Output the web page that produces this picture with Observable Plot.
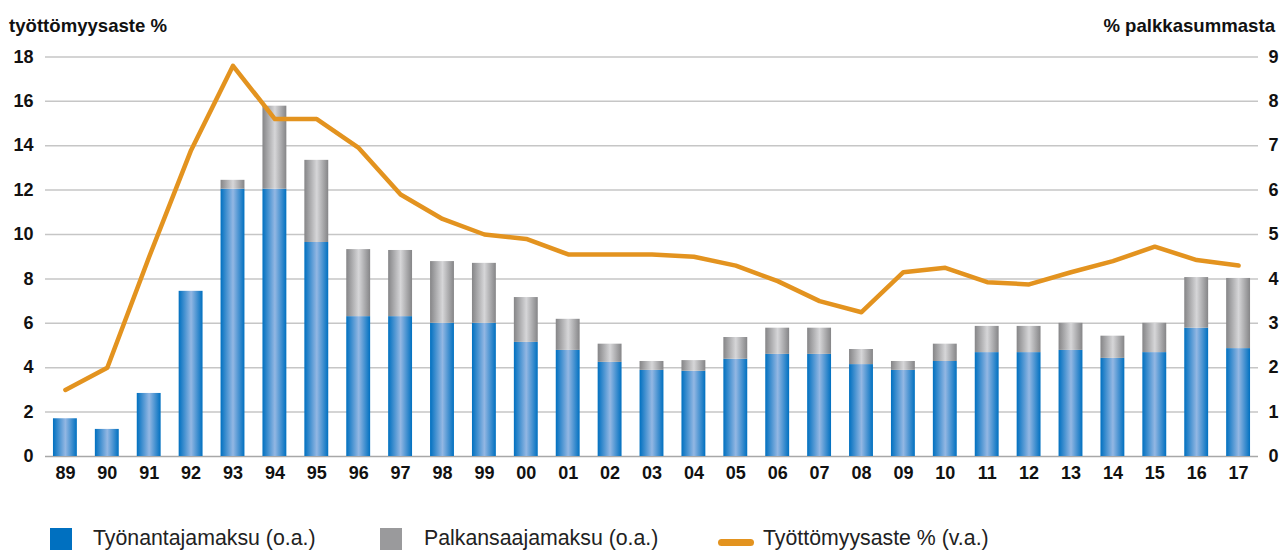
<!DOCTYPE html>
<html><head><meta charset="utf-8">
<script src="https://cdn.jsdelivr.net/npm/d3@7"></script>
<script src="https://cdn.jsdelivr.net/npm/@observablehq/plot@0.6"></script>
<style>
body{margin:0;background:#fff;font-family:"Liberation Sans",Arial,sans-serif;}
#wrap{position:relative;width:1284px;height:550px;overflow:hidden;background:#fff;}
#chart{position:absolute;left:0;top:0;}
.ttl{position:absolute;font-weight:bold;font-size:18.6px;line-height:18px;color:#111;top:17px;white-space:nowrap;}
.sw{position:absolute;top:528px;width:22px;height:26px;}
.lt{position:absolute;top:528px;font-size:21.3px;line-height:21px;color:#222;white-space:nowrap;}
</style>
</head><body>
<div id="wrap">
  <div id="chart"></div>
  <div class="ttl" style="left:9px">työttömyysaste %</div>
  <div class="ttl" style="right:9px">% palkkasummasta</div>
  <div class="sw" style="left:50px;background:#0070c0"></div>
  <div class="lt" style="left:93px">Työnantajamaksu (o.a.)</div>
  <div class="sw" style="left:380px;background:#9a9a9c"></div>
  <div class="lt" style="left:424px">Palkansaajamaksu (o.a.)</div>
  <div class="sw" style="left:718px;top:539px;width:36px;height:7px;border-radius:4px;background:#e3931f"></div>
  <div class="lt" style="left:763px">Työttömyysaste % (v.a.)</div>
</div>
<script>
const years = ["89","90","91","92","93","94","95","96","97","98","99","00","01","02","03","04","05","06","07","08","09","10","11","12","13","14","15","16","17"];
// % palkkasummasta (right axis)
const employer = [0.85,0.61,1.42,3.72,6.02,6.02,4.82,3.15,3.15,3.0,3.0,2.57,2.39,2.12,1.94,1.92,2.19,2.30,2.30,2.07,1.94,2.14,2.34,2.34,2.39,2.21,2.34,2.89,2.43];
const employee = [0,0,0,0,0.2,1.87,1.85,1.51,1.49,1.39,1.35,1.01,0.70,0.41,0.20,0.24,0.49,0.59,0.59,0.34,0.20,0.39,0.59,0.59,0.61,0.50,0.66,1.14,1.58];
// työttömyysaste % (left axis)
const unemployment = [3.0,4.0,9.0,13.8,17.6,15.2,15.2,13.9,11.8,10.7,10.0,9.8,9.1,9.1,9.1,9.0,8.6,7.9,7.0,6.5,8.3,8.5,7.85,7.75,8.3,8.8,9.45,8.85,8.6];
const leftTicks = [0,2,4,6,8,10,12,14,16,18];
const AX = 2; // left-axis units per right-axis unit

const bars = years.map((y,i)=>({year:y, employer:employer[i], employee:employee[i]}));
const lineData = years.map((y,i)=>({year:y, rate:unemployment[i]}));

const plot = Plot.plot({
  width:1284, height:490,
  marginTop:56.4, marginBottom:34, marginLeft:45, marginRight:26,
  style:{fontFamily:"'Liberation Sans', Arial, sans-serif", fontSize:"18px", fontWeight:"bold", color:"#111", background:"transparent"},
  x:{type:"band", domain:years, paddingInner:0.43, paddingOuter:0.19, round:false, label:null},
  y:{domain:[0,18], label:null},
  marks:[
    Plot.ruleY(leftTicks.filter(d=>d>0), {stroke:"#c6c6c6", strokeWidth:1.5}),
    Plot.ruleY([0], {stroke:"#a8a8a8", strokeWidth:1.5}),
    Plot.barY(bars, {x:"year", y1:0, y2:d=>d.employer*AX, fill:"#0070c0"}),
    Plot.barY(bars.filter(d=>d.employee>0), {x:"year", y1:d=>d.employer*AX, y2:d=>(d.employer+d.employee)*AX, fill:"#999999"}),
    Plot.line(lineData, {x:"year", y:"rate", stroke:"#e3931f", strokeWidth:4.5, strokeLinejoin:"round", strokeLinecap:"round"}),
    Plot.axisY(leftTicks, {anchor:"left", tickSize:0, tickPadding:12, label:null}),
    Plot.axisY(leftTicks, {anchor:"right", tickSize:0, tickPadding:10, tickFormat:d=>String(d/AX), label:null}),
    Plot.axisX({tickSize:0, tickPadding:10, label:null})
  ]
});

const svg = d3.select(plot);
const defs = svg.insert("defs", ":first-child");
function grad(id, edge, mid){
  const g = defs.append("linearGradient").attr("id", id).attr("x1","0%").attr("x2","100%").attr("y1","0%").attr("y2","0%");
  g.append("stop").attr("offset","0%").attr("stop-color", edge);
  g.append("stop").attr("offset","52%").attr("stop-color", mid);
  g.append("stop").attr("offset","100%").attr("stop-color", edge);
}
grad("gBlue", "#0070c0", "#93b7e3");
grad("gGray", "#858587", "#d6d6d8");
const barGroups = plot.querySelectorAll('g[aria-label="bar"]');
if (barGroups[0]) barGroups[0].setAttribute("fill", "url(#gBlue)");
if (barGroups[1]) barGroups[1].setAttribute("fill", "url(#gGray)");

document.getElementById("chart").appendChild(plot);
</script>
</body></html>
